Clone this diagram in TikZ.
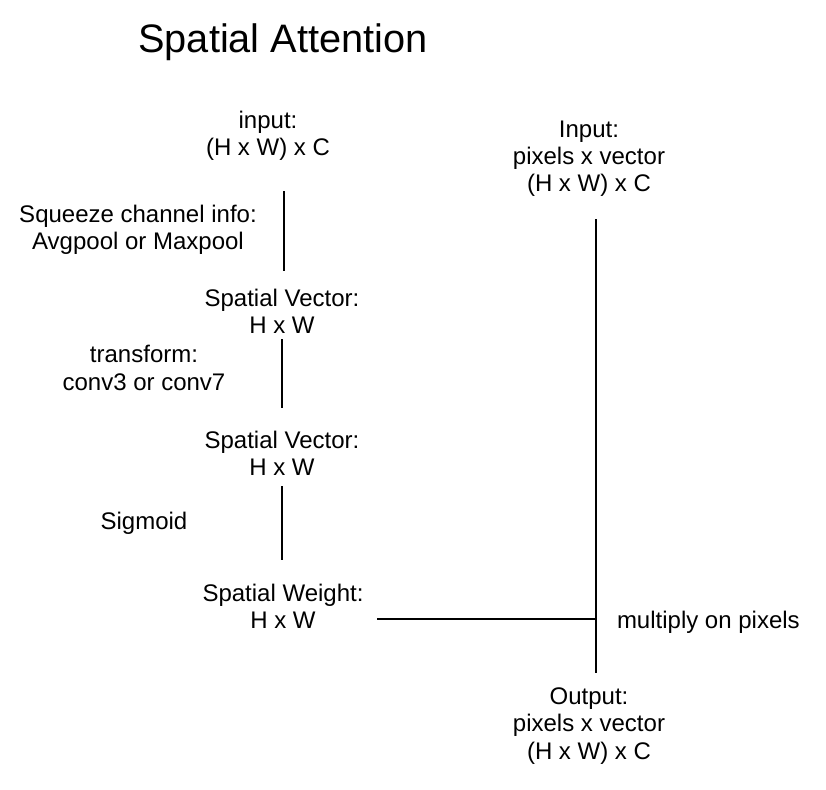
\documentclass[tikz,border=0pt]{standalone}
\usepackage{fontspec}
\setmainfont{Liberation Sans}
\begin{document}
\begin{tikzpicture}[x=0.75pt,y=-0.75pt,
  lbl/.style={inner sep=0pt,outer sep=0pt,align=center,font=\fontsize{18}{20.4}\selectfont},
  conn/.style={line width=1.5pt,line cap=butt}]
\useasboundingbox (0,0) rectangle (826,790);
\node[lbl,font=\fontsize{29.8}{34}\selectfont] (title) at (283,42) {Spatial Attention};
\node[lbl] (in) at (268,136) {input:\\(H x W) x C};
\node[lbl] (sq) at (138,230) {Squeeze channel info:\\Avgpool or Maxpool};
\node[lbl] (sv1) at (282,311) {Spatial Vector:\\H x W};
\node[lbl] (tr) at (144,368) {transform:\\conv3 or conv7};
\node[lbl] (sv2) at (282,453) {Spatial Vector:\\H x W};
\node[lbl] (sg) at (144,523) {Sigmoid};
\node[lbl] (sw) at (283,606) {Spatial Weight:\\H x W};
\node[lbl] (inr) at (589,159) {Input:\\pixels x vector\\(H x W) x C};
\node[lbl,anchor=west] (mul) at (617,622) {multiply on pixels};
\node[lbl] (out) at (589,726) {Output:\\pixels x vector\\(H x W) x C};
\coordinate (a1) at (284,191);
\coordinate (a2) at (284,271);
\coordinate (b1) at (282,339);
\coordinate (b2) at (282,408);
\coordinate (c1) at (282,486);
\coordinate (c2) at (282,560);
\coordinate (d1) at (596,219);
\coordinate (d2) at (596,673);
\coordinate (h1) at (377,619);
\coordinate (h2) at (596,619);
\draw[conn] (a1) -- (a2);
\draw[conn] (b1) -- (b2);
\draw[conn] (c1) -- (c2);
\draw[conn] (d1) -- (d2);
\draw[conn] (h1) -- (h2);
\end{tikzpicture}
\end{document}
